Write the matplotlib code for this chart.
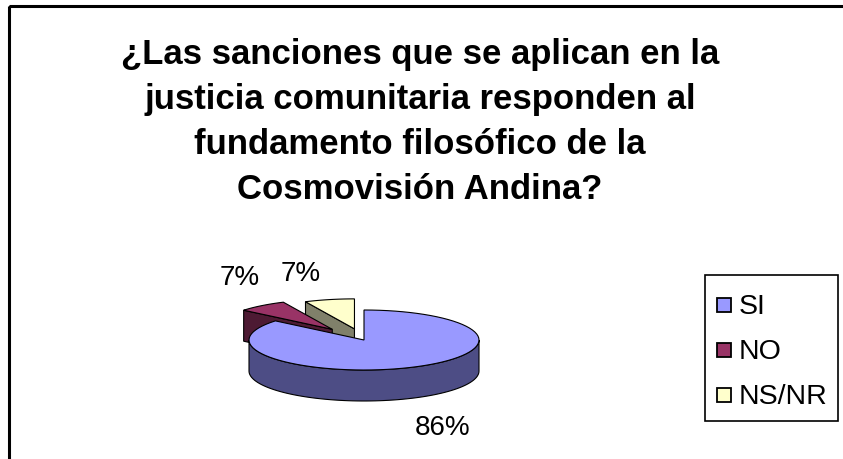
import numpy as np
import matplotlib.pyplot as plt
from matplotlib.patches import Polygon, Rectangle

# ── Data ──────────────────────────────────────────────────
categories = ['SI', 'NO', 'NS/NR']
values = [86, 7, 7]
pct_labels = ['86%', '7%', '7%']
top_colors = ['#9999FF', '#993366', '#FFFFCC']
side_colors = ['#4D4D85', '#4D1A33', '#80806A']
title_lines = ['¿Las sanciones que se aplican en la',
               'justicia comunitaria responden al',
               'fundamento filosófico de la',
               'Cosmovisión Andina?']

plt.rcParams['font.family'] = ['Liberation Sans', 'DejaVu Sans']

# ── Figure in pixel coords (y down) ───────────────────────
fig = plt.figure(figsize=(8.43, 4.60), dpi=100)
ax = fig.add_axes([0, 0, 1, 1])
ax.set_xlim(0, 843)
ax.set_ylim(460, 0)
ax.axis('off')

# outer chart frame
ax.add_patch(Rectangle((9, 7), 840, 460, fill=False, lw=2.2, ec='black'))

for i, line in enumerate(title_lines):
    ax.text(420, 64 + 45 * i, line, ha='center', va='baseline',
            fontsize=25, fontweight='bold')

# ── 3D pie geometry ───────────────────────────────────────
cx, cy = 364, 341      # centre of top face
a, b = 115, 30         # ellipse semi axes
depth = 31
explode = [0.0, 0.45, 0.38]


def pt(t, dx=0, dy=0, down=0):
    # t in degrees, counter-clockwise
    r = np.radians(t)
    return (cx + dx + a * np.cos(r), cy + dy - b * np.sin(r) + down)


def arc(t0, t1, dx=0, dy=0, down=0, n=80):
    ts = np.linspace(t0, t1, n)
    return [pt(t, dx, dy, down) for t in ts]


# angles: start at 12 o'clock, going clockwise
fr = np.array(values) / np.sum(values)
ends = 90 - np.cumsum(fr) * 360
starts = np.concatenate([[90], ends[:-1]])

slices = []
for i in range(len(values)):
    t_hi, t_lo = starts[i], ends[i]
    mid = np.radians((t_hi + t_lo) / 2)
    dx = explode[i] * a * np.cos(mid)
    dy = -explode[i] * b * np.sin(mid)
    slices.append((t_lo, t_hi, dx, dy))

# back slices first (NS/NR, NO), then SI in front
for i in [2, 1, 0]:
    t_lo, t_hi, dx, dy = slices[i]
    c0 = (cx + dx, cy + dy)
    # radial walls that face the viewer
    for t in (t_lo, t_hi):
        normal = t - 90 if t == t_lo else t + 90
        if np.sin(np.radians(normal)) < 0:
            p = pt(t, dx, dy)
            wall = [c0, p, (p[0], p[1] + depth), (c0[0], c0[1] + depth)]
            ax.add_patch(Polygon(wall, closed=True, fc=side_colors[i],
                                 ec='black', lw=0.8))
    # outer curved wall: front half only
    for off in (0, 360, -360):
        l2, h2 = max(t_lo + off, 180), min(t_hi + off, 360)
        if h2 > l2:
            top = arc(l2, h2, dx, dy)
            bot = arc(h2, l2, dx, dy, down=depth)
            ax.add_patch(Polygon(top + bot, closed=True, fc=side_colors[i],
                                 ec='black', lw=0.8))
    # top face
    face = [c0] + arc(t_lo, t_hi, dx, dy)
    ax.add_patch(Polygon(face, closed=True, fc=top_colors[i],
                         ec='black', lw=0.8))

# percentage labels
label_pos = [(443, 428), (240, 278), (301, 274)]
for (x, y), lab in zip(label_pos, pct_labels):
    ax.text(x, y, lab, ha='center', va='center', fontsize=20)

# ── Legend ────────────────────────────────────────────────
ax.add_patch(Rectangle((705, 276), 133, 146, fill=False, lw=1.2, ec='black'))
for i, (name, col) in enumerate(zip(categories, top_colors)):
    y = 306 + 45 * i
    ax.add_patch(Rectangle((717, y - 7), 14, 14, fc=col, ec='black', lw=1.3))
    ax.text(739, y + 1, name, ha='left', va='center', fontsize=20.5)

plt.savefig('out.png', dpi=100)
